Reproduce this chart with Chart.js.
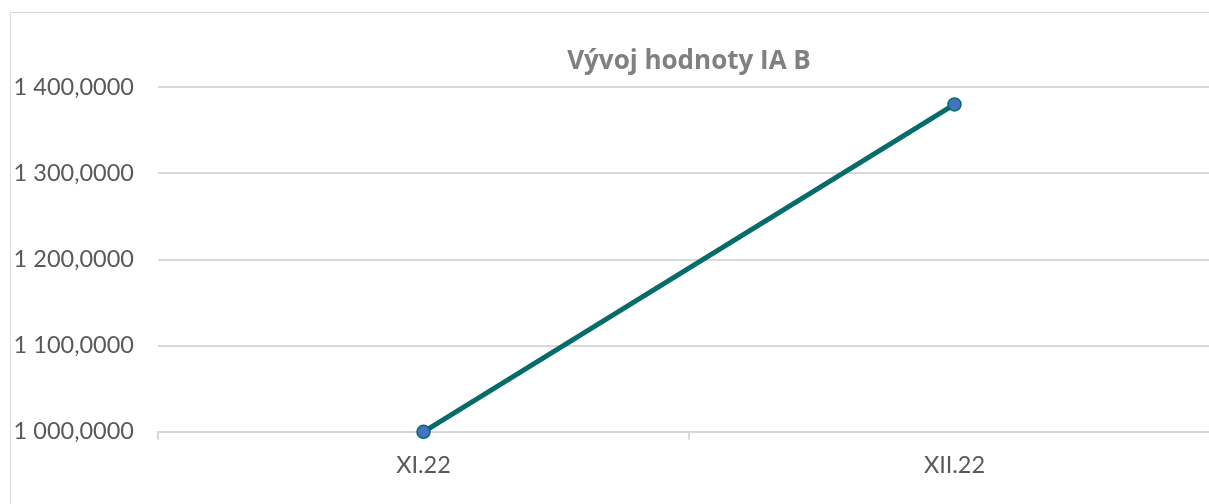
<!DOCTYPE html>
<html>
<head>
<meta charset="utf-8">
<script src="https://cdn.jsdelivr.net/npm/chart.js@4"></script>
<style>
  html, body { margin: 0; padding: 0; background: #fff; overflow: hidden; }
  #wrap {
    position: absolute; left: 10px; top: 12px;
    width: 1240px; height: 520px;
    border: 1px solid #d9d9d9; box-sizing: border-box;
  }
</style>
</head>
<body>
<div id="wrap"><canvas id="chart"></canvas></div>
<script>
// data
const labels = ['XI.22', 'XII.22'];
const values = [1000, 1380];
const yTicks = [1000, 1100, 1200, 1300, 1400];

const fmt = v => {
  const [i, d] = v.toFixed(4).split('.');
  return i.replace(/\B(?=(\d{3})+(?!\d))/g, ' ') + ',' + d;
};

const font = 'Lato, "Liberation Sans", sans-serif';

new Chart(document.getElementById('chart'), {
  type: 'line',
  data: {
    labels,
    datasets: [{
      data: values,
      borderColor: '#056b6b',
      borderWidth: 5,
      pointRadius: 6.5,
      pointBorderWidth: 1.5,
      pointBackgroundColor: '#4472c4',
      pointBorderColor: '#056b6b',
      tension: 0,
      clip: false
    }]
  },
  options: {
    responsive: true,
    maintainAspectRatio: false,
    animation: false,
    layout: { padding: { left: 4, right: 29, top: 0, bottom: 39 } },
    plugins: {
      legend: { display: false },
      tooltip: { enabled: false },
      title: {
        display: true,
        text: 'Vývoj hodnoty IA B',
        fullSize: false,
        color: '#808080',
        font: { family: '"Open Sans", sans-serif', size: 26, weight: 'bold' },
        padding: { top: 33, bottom: 10 }
      }
    },
    scales: {
      x: {
        offset: true,
        grid: {
          offset: true,
          drawOnChartArea: false,
          drawTicks: true,
          tickLength: 8,
          color: '#d9d9d9',
          lineWidth: 2
        },
        border: { color: '#d9d9d9', width: 2 },
        ticks: {
          color: '#595959',
          padding: 12,
          font: { family: font, size: 23.5 }
        }
      },
      y: {
        min: 1000,
        max: 1400,
        afterBuildTicks: axis => { axis.ticks = yTicks.map(v => ({ value: v })); },
        afterFit: axis => { axis.width = 143; },
        grid: { drawTicks: false, color: '#d9d9d9', lineWidth: 2 },
        border: { display: false },
        ticks: {
          color: '#595959',
          padding: 24,
          font: { family: font, size: 23.5 },
          callback: v => fmt(v)
        }
      }
    }
  }
});
</script>
</body>
</html>
